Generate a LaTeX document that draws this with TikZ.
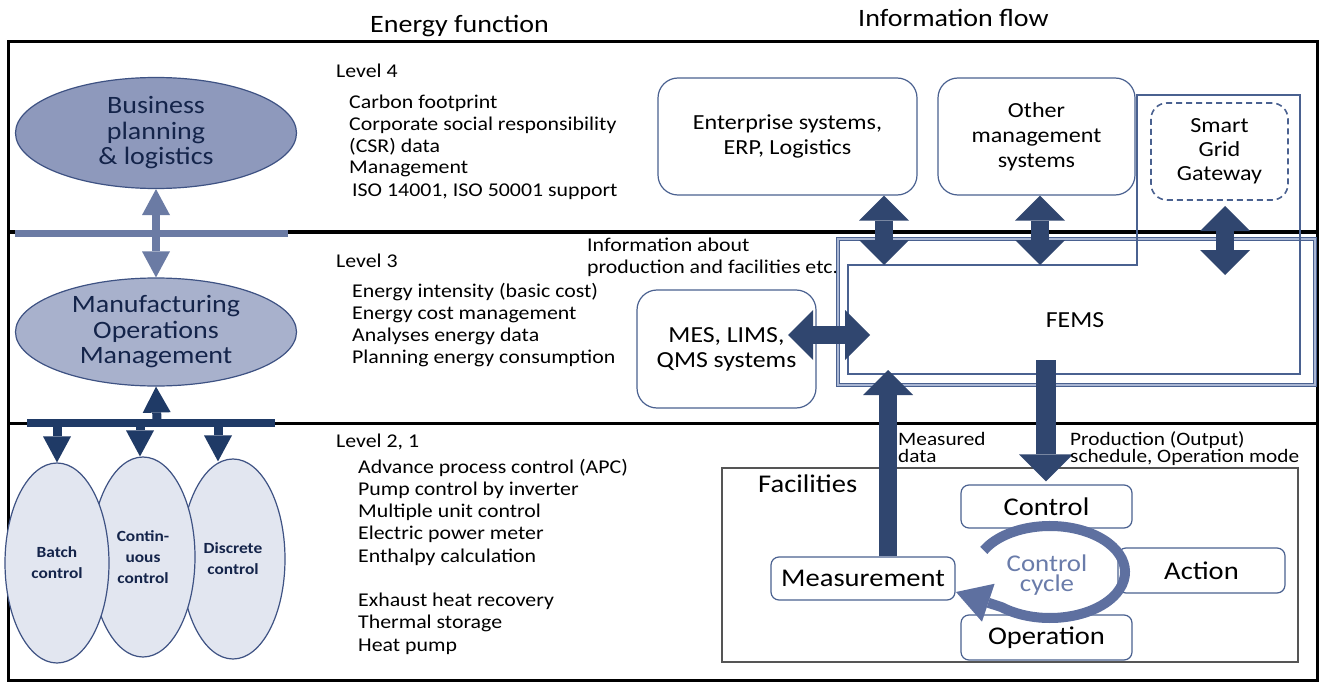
\documentclass[tikz,border=0pt]{standalone}
\usepackage{fontspec}
\setmainfont{Carlito}[FakeStretch=1.12]
\usetikzlibrary{arrows.meta,shapes.geometric,calc}

\definecolor{slatebar}{HTML}{6B7BA4}
\definecolor{navybar}{HTML}{1F3A66}
\definecolor{bpfill}{HTML}{8E99BC}
\definecolor{momfill}{HTML}{A8B1CC}
\definecolor{ctlfill}{HTML}{E2E6F0}
\definecolor{edge}{HTML}{3E5283}
\definecolor{pipeblue}{HTML}{30466F}
\definecolor{boxline}{HTML}{4A6190}
\definecolor{femsmid}{HTML}{A9B6D3}
\definecolor{cyclec}{HTML}{5E70A0}
\definecolor{cycletext}{HTML}{6A7CAA}
\definecolor{elltext}{HTML}{14244A}
\definecolor{facline}{HTML}{555555}

\newcommand\fsz[2]{\fontsize{#1pt}{#2pt}\selectfont}

\tikzset{
  bigtip/.tip={Triangle[length=25pt,width=50pt,line width=0pt]},
  prodtip/.tip={Triangle[length=27pt,width=54pt,line width=0pt]},
  slatetip/.tip={Triangle[length=26pt,width=28pt,line width=0pt]},
  cycletip/.tip={Triangle[length=34pt,width=40pt,line width=0pt]},
  % multi-line text blocks are placed by the baseline of their last line
  txt/.style={font=\fsz{19.5}{22}, inner sep=0pt, align=left, anchor=base west},
  lvl/.style={font=\fsz{19.5}{22}, inner sep=0pt, anchor=base west},
  bigell/.style={ellipse, draw=edge, line width=1.2pt, inner sep=0pt,
    minimum width=281pt, align=center, text=elltext, font=\fsz{25}{25.5}},
  ctlell/.style={ellipse, draw=edge, line width=1.2pt, fill=ctlfill, inner sep=0pt,
    minimum width=104pt, minimum height=200pt, align=center, text=elltext,
    font=\bfseries\fsz{15.5}{21}},
  sysbox/.style={draw=boxline, line width=1.2pt, rounded corners=20pt, fill=white,
    align=center, font=\fsz{21.5}{25}, inner sep=0pt},
  facbox/.style={draw=boxline, line width=1.2pt, rounded corners=8pt, fill=white,
    font=\fsz{25.5}{28}, inner sep=0pt},
  pipe/.style={draw=pipeblue, line width=18pt},
  slatepipe/.style={draw=slatebar, line width=8pt},
  navypipe/.style={draw=navybar, line width=9pt},
}

\begin{document}
\begin{tikzpicture}[x=1pt,y=-1pt]
\useasboundingbox (0,0) rectangle (1320,682);
\fill[white] (0,0) rectangle (1320,682);

% column titles
\node[font=\fsz{25}{28}, inner sep=0pt, anchor=base west] (tenergy) at (370,33) {Energy function};
\node[font=\fsz{25}{28}, inner sep=0pt, anchor=base west] (tinfo) at (858,27) {Information flow};

% outer frame and level separators
\draw[line width=3pt] (8,42) rectangle (1317,680);
\draw[line width=4pt] (8,232) -- (1317,232);
\draw[line width=3pt] (8,423) -- (1317,423);

% ---------------- left: hierarchy of functions ----------------
\node[bigell, fill=bpfill, minimum height=111pt] (bp) at (156,133) {Business\\planning\\\& logistics};
\node[bigell, fill=momfill, minimum height=108pt] (mom) at (156,332) {Manufacturing\\Operations\\Management};

\node[ctlell] (disc) at (233,559) {Discrete\\control};
\node[ctlell] (cont) at (143,557) {Contin-\\uous\\control};
\node[ctlell] (batch) at (57,563) {Batch\\control};

\draw[slatebar, line width=7pt] (15,233) -- (288,233);
\draw[navybar, line width=8pt] (27,423) -- (275,423);

\draw[slatepipe, slatetip-slatetip] (bp.south) -- (mom.north);
\coordinate (hub) at (157,423);
\draw[navypipe, -slatetip] (hub) -- (mom.south);
\coordinate (d1) at (57,423);
\coordinate (d2) at (140,423);
\coordinate (d3) at (218,423);
\draw[navypipe, -slatetip] (d1) -- (batch.north);
\draw[navypipe, -slatetip] (d2) -- (d2 |- cont.north);
\draw[navypipe, -slatetip] (d3) -- ($(d3 |- disc.north)+(0,3)$);

% ---------------- middle: energy functions per level ----------------
\node[lvl] (l4) at (336,78) {Level 4};
\node[txt] (l4t) at (349,196) {Carbon footprint\\Corporate social responsibility\\(CSR) data\\Management\\\hspace*{3pt}ISO 14001, ISO 50001 support};

\node[lvl] (l3) at (336,267) {Level 3};
\node[txt, font=\fsz{19.5}{21.7}] (l3t) at (352,363) {Energy intensity (basic cost)\\Energy cost management\\Analyses energy data\\Planning energy consumption};

\node[lvl] (l21) at (336,447) {Level 2, 1};
\node[txt, font=\fsz{19.5}{22.25}] (l21t) at (358,651) {Advance process control (APC)\\Pump control by inverter\\Multiple unit control\\Electric power meter\\Enthalpy calculation\\[22.25pt]Exhaust heat recovery\\Thermal storage\\Heat pump};

\node[txt] (info) at (587,273) {Information about\\production and facilities etc.};

% ---------------- right: information flow ----------------
\node[draw=boxline, line width=1.2pt, double=femsmid, double distance=1.3pt,
      minimum width=477pt, minimum height=146pt, inner sep=0pt] (fems) at (1076.5,312) {};
\draw[boxline, line width=1.3pt] (848,265) -- (1137,265) -- (1137,95) -- (1300,95)
      -- (1300,374) -- (848,374) -- cycle;
\node[font=\fsz{23}{26}, inner sep=0pt] (femslabel) at (1075,320) {FEMS};

\node[sysbox, minimum width=259pt, minimum height=117pt] (ent) at (787.5,136.5) {Enterprise systems,\\ERP, Logistics};
\node[sysbox, minimum width=197pt, minimum height=117pt] (oth) at (1036.5,136.5) {Other\\management\\systems};
\node[sysbox, dashed, dash pattern=on 6pt off 4pt, line width=1.6pt, rounded corners=16pt,
      minimum width=137pt, minimum height=97pt, fill=none, font=\fsz{21.5}{24}] (sgg) at (1219.5,151.5) {Smart\\Grid\\Gateway};
\node[sysbox, minimum width=179pt, minimum height=118pt, font=\fsz{23}{25}] (mes) at (726.5,349) {MES, LIMS,\\QMS systems};

\coordinate (fe1) at (884,265);
\coordinate (fe2) at (1040,265);
\coordinate (fe3) at (1225,275);
\coordinate (sgtop) at (1225,206);
\coordinate (mesl) at (788,335);
\coordinate (mesr) at (870,335);
\draw[pipe, bigtip-bigtip] (fe1 |- ent.south) -- (fe1);
\draw[pipe, bigtip-bigtip] (fe2 |- oth.south) -- (fe2);
\draw[pipe, bigtip-bigtip] (sgtop) -- (fe3);
\draw[pipe, bigtip-bigtip] (mesl) -- (mesr);

% facilities and the control cycle
\node[draw=facline, line width=1.3pt, minimum width=576pt, minimum height=194pt, inner sep=0pt] (fac) at (1010,565) {};
\node[font=\fsz{25.5}{28}, inner sep=0pt, anchor=base west] (faclabel) at (758,492) {Facilities};

\node[facbox, minimum width=171pt, minimum height=43pt] (ctl) at (1046.5,506.5) {Control};
\node[facbox, minimum width=184pt, minimum height=43pt] (meas) at (863,578.5) {Measurement};
\node[facbox, minimum width=167pt, minimum height=45pt] (act) at (1201.5,570.5) {Action};
\node[facbox, minimum width=171pt, minimum height=45pt] (op) at (1046.5,637.5) {Operation};

\coordinate (cyc) at (1050,572);
\coordinate (cycend) at (956,592);
\draw[cyclec, line width=10pt, -cycletip] (cyc) ++(208:75 and 46)
      arc[start angle=208, end angle=490, x radius=75, y radius=46] -- (cycend);
\node[font=\fsz{24}{20}, text=cycletext, align=center, inner sep=0pt] (cyclabel) at (1047,575) {Control\\cycle};

\coordinate (mt) at (888,370);
\coordinate (pt) at (1046,360);
\draw[pipe, -bigtip] (mt |- meas.north) -- (mt);
\draw[pipe, line width=20pt, -prodtip] (pt) -- ($(pt |- ctl.north)+(0,-3)$);

\node[txt, font=\fsz{19}{17}] (mdata) at (898,462) {Measured\\data};
\node[txt, font=\fsz{19}{17}] (pdata) at (1070,462) {Production (Output)\\schedule, Operation mode};

\end{tikzpicture}
\end{document}
